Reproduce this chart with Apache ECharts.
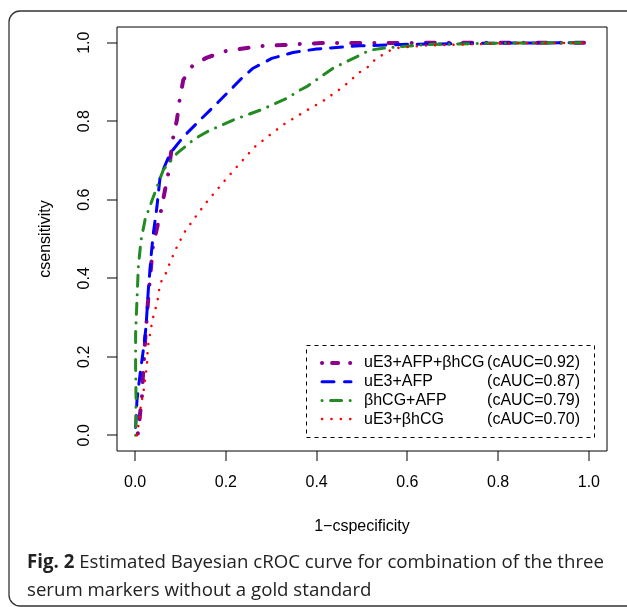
<!DOCTYPE html>
<html>
<head>
<meta charset="utf-8">
<script src="https://cdn.jsdelivr.net/npm/echarts@6/dist/echarts.min.js"></script>
<style>
html,body{margin:0;padding:0;background:#fff;}
#c{width:627px;height:607px;}
</style>
</head>
<body>
<div id="c"></div>
<script>
// ---- data ----
const seriesNames = ['uE3+AFP+βhCG', 'uE3+AFP', 'βhCG+AFP', 'uE3+βhCG'];
const cAUC = ['0.92', '0.87', '0.79', '0.70'];
const tickValues = [0, 0.2, 0.4, 0.6, 0.8, 1.0];
const tickLabels = ['0.0', '0.2', '0.4', '0.6', '0.8', '1.0'];

const purpleX = [0.006,0.008,0.011,0.015,0.017,0.022,0.028,0.035,0.039,0.048,0.057,0.065,0.073,0.084,0.092,0.098,0.106,0.128,0.158,0.203,0.242,0.285,0.326,0.367,0.41,0.5,0.7,1.0];
const purpleY = [0.005,0.02,0.056,0.098,0.149,0.242,0.336,0.429,0.48,0.527,0.572,0.62,0.667,0.76,0.803,0.854,0.905,0.944,0.962,0.98,0.986,0.992,0.994,0.997,0.999,0.999,1.0,1.0];

const blueX = [0.001,0.002,0.004,0.011,0.018,0.024,0.029,0.035,0.040,0.048,0.055,0.077,0.106,0.143,0.180,0.209,0.238,0.260,0.301,0.348,0.40,0.444,0.495,0.606,0.8,1.0];
const blueY = [0.02,0.038,0.089,0.157,0.217,0.276,0.370,0.455,0.514,0.582,0.658,0.718,0.760,0.803,0.845,0.879,0.913,0.935,0.960,0.975,0.984,0.988,0.992,0.996,0.999,1.0];

const greenX = [0.001,0.002,0.001,0.001,0.004,0.007,0.013,0.022,0.040,0.062,0.092,0.128,0.143,0.165,0.216,0.275,0.334,0.363,0.378,0.436,0.466,0.488,0.517,0.554,0.642,0.8,1.0];
const greenY = [0.0,0.089,0.174,0.259,0.344,0.429,0.497,0.55,0.607,0.676,0.718,0.752,0.763,0.777,0.803,0.828,0.858,0.879,0.888,0.935,0.952,0.964,0.981,0.987,0.995,0.999,1.0];

const redX = [0.004,0.006,0.013,0.018,0.026,0.028,0.035,0.038,0.044,0.049,0.055,0.066,0.073,0.089,0.108,0.132,0.156,0.18,0.202,0.238,0.264,0.30,0.329,0.37,0.416,0.459,0.495,0.514,0.528,0.545,0.563,0.580,0.642,0.8,1.0];
const redY = [0.0,0.013,0.081,0.106,0.178,0.225,0.272,0.293,0.319,0.340,0.387,0.408,0.429,0.473,0.516,0.555,0.592,0.625,0.655,0.702,0.735,0.768,0.793,0.822,0.853,0.888,0.925,0.939,0.956,0.969,0.981,0.987,0.993,0.998,1.0];

const captionBold = 'Fig. 2';
const captionLine1 = ' Estimated Bayesian cROC curve for combination of the three';
const captionLine2 = 'serum markers without a gold standard';
const xName = '1\u2212cspecificity';
const yName = 'csensitivity';

// ---- styles ----
const RF = '"Liberation Sans", Arial, sans-serif';
const CF = '"Open Sans", "Noto Sans", sans-serif';
const colors = ['#8B008B', '#0000FF', '#228B22', '#FF0000'];
const widths = [4, 3, 3, 2.5];
const dashes = [[0.1, 14.1, 9, 14.1], [12, 9.7], [0.1, 8.5, 11, 8.5], [0.1, 9.1]];
const legendDashes = [[0.1, 10, 6, 12], [12, 10.5], [0.1, 8.5, 11, 8.5], [0.1, 9.3]];
const AX_MIN = -0.04, AX_MAX = 1.04, TICK_LEN = 10;
const GRID = {left: 117, right: 20, top: 27, bottom: 156};
const W = 627, H = 607;

const xs = [purpleX, blueX, greenX, redX];
const ys = [purpleY, blueY, greenY, redY];

// caption width fitting
const mctx = document.createElement('canvas').getContext('2d');
const capSize = 19;
mctx.font = 'bold ' + capSize + 'px ' + CF;
const wb = mctx.measureText(captionBold).width;
mctx.font = capSize + 'px ' + CF;
const wr = mctx.measureText(captionLine1).width;
const capScale = 577 / (wb + wr);

const chart = echarts.init(document.getElementById('c'), null, {renderer: 'canvas', width: W, height: H});

const series = seriesNames.map((n, i) => ({
  name: n,
  type: 'line',
  symbol: 'none',
  showSymbol: false,
  silent: true,
  data: xs[i].map((x, j) => [x, ys[i][j]]),
  lineStyle: {color: colors[i], width: widths[i], type: dashes[i], cap: 'round', join: 'round'},
  itemStyle: {color: colors[i]},
  z: 2 + i
}));

const tickFmt = v => tickLabels[tickValues.findIndex(t => Math.abs(t - v) < 1e-6)] || '';
const nameStyle = {fontSize: 16, color: '#000', fontFamily: RF};

const baseGraphic = [
  {id: 'frame', type: 'rect', z: -1, silent: true, shape: {x: 9, y: 11, width: 660, height: 595, r: 11},
    style: {fill: 'rgba(0,0,0,0)', stroke: '#333', lineWidth: 1.3}},
  {id: 'legbox', type: 'rect', z: 1, silent: true, shape: {x: 306.5, y: 345.5, width: 288, height: 92},
    style: {fill: '#fff', stroke: '#000', lineWidth: 1, lineDash: [4, 4]}},
  {id: 'cap1', type: 'text', x: 27, y: 563, scaleX: capScale, originX: 0, silent: true,
    style: {text: '{b|' + captionBold + '}{r|' + captionLine1 + '}', verticalAlign: 'middle', align: 'left',
      rich: {b: {fontWeight: 'bold', fontSize: capSize, fontFamily: CF, fill: '#222'},
             r: {fontSize: capSize, fontFamily: CF, fill: '#222'}}}},
  {id: 'cap2', type: 'text', x: 27, y: 591, scaleX: capScale, originX: 0, silent: true,
    style: {text: captionLine2, verticalAlign: 'middle', align: 'left', fontSize: capSize, fontFamily: CF, fill: '#222'}}
];

const option = {
  animation: false,
  backgroundColor: '#fff',
  grid: Object.assign({show: true, borderColor: '#000', borderWidth: 1, backgroundColor: 'rgba(0,0,0,0)'}, GRID),
  xAxis: {
    type: 'value', min: AX_MIN, max: AX_MAX, position: 'bottom',
    axisLine: {show: false, onZero: false},
    splitLine: {show: false},
    axisTick: {show: false},
    axisLabel: {show: true, customValues: tickValues, margin: 24, fontSize: 16, color: '#000', fontFamily: RF, formatter: tickFmt},
    name: xName, nameLocation: 'middle', nameGap: 68, nameTextStyle: nameStyle
  },
  yAxis: {
    type: 'value', min: AX_MIN, max: AX_MAX, position: 'left',
    axisLine: {show: false, onZero: false},
    splitLine: {show: false},
    axisTick: {show: false},
    axisLabel: {show: true, customValues: tickValues, margin: 24, rotate: 90, fontSize: 16, color: '#000', fontFamily: RF, formatter: tickFmt},
    name: yName, nameLocation: 'middle', nameGap: 63, nameTextStyle: nameStyle
  },
  legend: {
    orient: 'vertical', left: 306, top: 345,
    padding: [10, 0, 10, 14],
    itemWidth: 29, itemHeight: 12, itemGap: 2.7,
    selectedMode: false,
    textStyle: {fontSize: 16, color: '#000', fontFamily: RF, lineHeight: 16,
      rich: {
        a: {width: 127, fontSize: 16, fontFamily: RF, color: '#000', lineHeight: 16, padding: [0, 0, 0, 8]},
        b: {width: 89, align: 'right', fontSize: 16, fontFamily: RF, color: '#000', lineHeight: 16}
      }},
    formatter: name => '{a|' + name + '}{b|(cAUC=' + cAUC[seriesNames.indexOf(name)] + ')}',
    data: seriesNames.map((n, i) => ({
      name: n,
      itemStyle: {color: 'rgba(0,0,0,0)', borderColor: 'rgba(0,0,0,0)', borderWidth: 0, opacity: 0},
      lineStyle: {color: colors[i], width: widths[i], type: legendDashes[i], cap: 'round', opacity: 1}
    }))
  },
  graphic: baseGraphic,
  series: series
};
chart.setOption(option);

// pixel position of a data point, through the chart's own coordinate system
function toPx(pt) {
  let p = null;
  try { p = chart.convertToPixel({xAxisIndex: 0, yAxisIndex: 0}, pt); } catch (e) { p = null; }
  if (!p || !isFinite(p[0]) || !isFinite(p[1])) {
    try { p = chart.convertToPixel({gridIndex: 0}, pt); } catch (e) { p = null; }
  }
  if (!p || !isFinite(p[0]) || !isFinite(p[1])) {
    const pw = W - GRID.left - GRID.right, ph = H - GRID.top - GRID.bottom;
    p = [GRID.left + (pt[0] - AX_MIN) / (AX_MAX - AX_MIN) * pw,
         H - GRID.bottom - (pt[1] - AX_MIN) / (AX_MAX - AX_MIN) * ph];
  }
  return p;
}

// outward tick marks on the box edges, drawn as thin filled rects
const tickGraphic = [];
tickValues.forEach((v, i) => {
  const px = toPx([v, AX_MIN]);
  tickGraphic.push({id: 'xt' + i, type: 'rect', z: 50, silent: true,
    shape: {x: Math.round(px[0]) - 0.5, y: Math.round(px[1]), width: 1, height: TICK_LEN},
    style: {fill: '#000', stroke: null}});
  const py = toPx([AX_MIN, v]);
  tickGraphic.push({id: 'yt' + i, type: 'rect', z: 50, silent: true,
    shape: {x: Math.round(py[0]) - TICK_LEN, y: Math.round(py[1]) - 0.5, width: TICK_LEN, height: 1},
    style: {fill: '#000', stroke: null}});
});
chart.setOption({graphic: baseGraphic.concat(tickGraphic)});
</script>
</body>
</html>
